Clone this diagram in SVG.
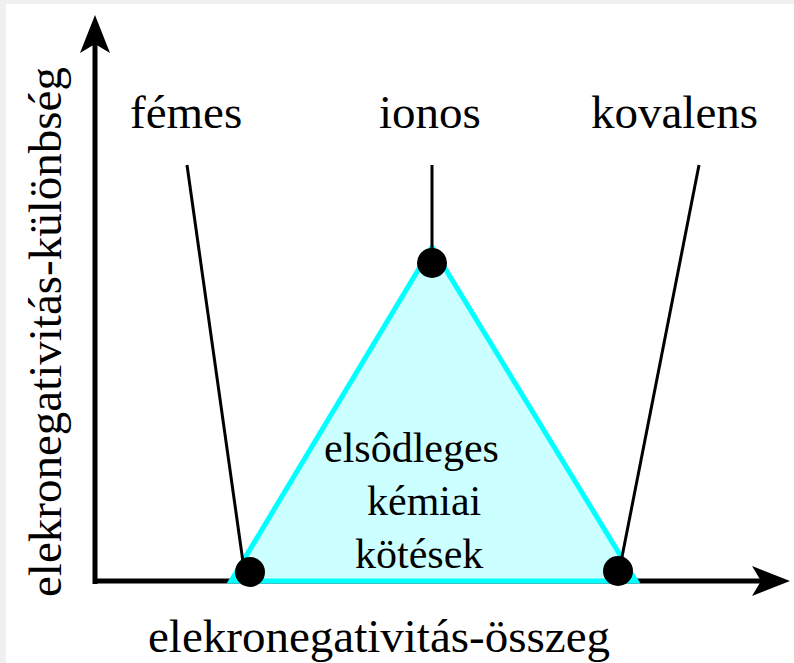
<svg xmlns="http://www.w3.org/2000/svg" width="794" height="663" viewBox="0 0 794 663">
<style>
.lbl{font-family:"Liberation Serif","Times New Roman",serif;font-size:47px;fill:#000}
.lead{stroke:#000;stroke-width:3;fill:none}
.axis{stroke:#000;stroke-width:5;fill:none}
.dot{fill:#000}
</style>
<defs>
<path id="ahead" d="M0,0 L-38,-15 L-29,0 L-38,15 Z" fill="#000"/>
</defs>
<rect x="0" y="0" width="794" height="663" fill="#f0f0f0"/>
<rect x="6" y="4" width="788" height="659" fill="#fff"/>
<g id="axes">
<line class="axis" x1="95" y1="584" x2="95" y2="40"/>
<use href="#ahead" transform="translate(95,15) rotate(-90)"/>
<line class="axis" x1="93" y1="581" x2="765" y2="581"/>
<use href="#ahead" transform="translate(790,581)"/>
</g>
<g id="triangle">
<polygon points="432,247 231,581 636,581" fill="#ccffff" stroke="#00ffff" stroke-width="5" stroke-linejoin="miter"/>
</g>
<g id="connectors">
<line class="lead" x1="187" y1="165" x2="243" y2="562"/>
<line class="lead" x1="432" y1="165" x2="432" y2="255"/>
<line class="lead" x1="699" y1="165" x2="621" y2="562"/>
</g>
<g id="femes">
<text class="lbl" x="130" y="128">fémes</text>
<circle class="dot" cx="250" cy="572" r="15"/>
</g>
<g id="ionos">
<text class="lbl" x="430" y="128" text-anchor="middle">ionos</text>
<circle class="dot" cx="432" cy="263" r="15"/>
</g>
<g id="kovalens">
<text class="lbl" x="591" y="128">kovalens</text>
<circle class="dot" cx="618" cy="571" r="15"/>
</g>
<g id="center-label">
<text class="lbl" x="324" y="462" style="font-size:42px">elsôdleges</text>
<text class="lbl" x="367" y="515" style="font-size:42px">kémiai</text>
<text class="lbl" x="355" y="568" style="font-size:42px">kötések</text>
</g>
<g id="axis-labels">
<text class="lbl" x="148" y="652">elekronegativitás-összeg</text>
<text class="lbl" transform="translate(61,597) rotate(-90)">elekronegativitás-különbség</text>
</g>
</svg>
